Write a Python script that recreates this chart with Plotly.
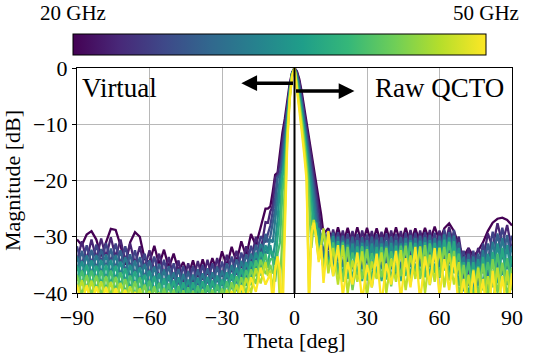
import plotly.graph_objects as go
from plotly.colors import sample_colorscale

# Angle grid (deg)
theta = [-90, -88, -86, -84, -82, -80, -78, -76, -74, -72, -70, -68, -66, -64, -62, -60,
         -58, -56, -54, -52, -50, -48, -46, -44, -42, -40, -38, -36, -34, -32, -30, -28,
         -26, -24, -22, -20, -18, -16, -14, -12,
         -11, -10, -9, -8, -7, -6, -5, -4, -3, -2, -1, 0, 1, 2, 3, 4, 5, 6, 7, 8, 9, 10, 11,
         12, 14, 16, 18, 20, 22, 24, 26, 28, 30, 32, 34, 36, 38, 40, 42, 44, 46, 48, 50, 52,
         54, 56, 58, 60, 62, 64, 66, 68, 70, 72, 74, 76, 78, 80, 82, 84, 86, 88, 90]

freqs = [20, 23, 26, 29, 32, 35, 38, 41, 44, 47, 50]  # GHz

m20 = ([-30.5, -31.5, -29.6, -29.0, -30.5, -33.5, -31.0, -28.6, -28.8, -31.5, -35.0, -31.0, -29.2, -30.0, -34.0, -34.5, -31.6, -35.0, -32.3, -35.5, -33.0, -36.0, -34.5, -37.0, -34.2, -37.2, -34.0, -36.8, -33.8, -36.2, -32.6, -35.2, -31.8, -34.5, -30.8, -33.5, -29.5, -31.5, -28.3, -25.0]
       + [-25.0, -24.6, -22.0, -19.0, -18.6, -14.5, -11.5, -9.0, -6.0, -2.8, -0.8, 0.0, -0.6, -2.0, -4.3, -7.0, -9.8, -12.3, -15.0, -17.8, -20.5, -23.2, -26.0]
       + [-29.5, -28.5, -31.5, -28.3, -31.5, -28.4, -31.5, -28.3, -31.5, -28.4, -31.5, -28.5, -31.5, -28.4, -31.5, -28.3, -31.5, -28.4, -31.3, -28.5, -31.2, -28.4, -31.0, -28.2, -30.8, -28.5, -27.6, -29.0, -31.5, -33.5, -32.0, -33.5, -32.5, -31.0, -29.0, -27.5, -26.8, -26.6, -27.0, -28.0])

m23 = ([-34.4, -30.8, -34.1, -30.5, -33.9, -30.3, -33.7, -30.1, -33.7, -30.5, -34.3, -31.2, -34.9, -31.7, -35.6, -32.4, -36.2, -33.0, -36.8, -33.6, -37.5, -34.2, -38.0, -34.7, -38.0, -34.3, -37.7, -34.1, -37.5, -33.8, -37.1, -33.2, -36.3, -32.5, -35.6, -31.7, -34.4, -30.0, -32.7, -27.4]
       + [-27.5, -25.5, -24.5, -19.5, -18.9, -16.5, -13.0, -10.0, -6.6, -3.1, -0.9, 0.0, -0.8, -2.4, -5.0, -7.8, -10.6, -13.3, -16.0, -19.0, -21.8, -25.0, -28.5]
       + [-28.7, -32.3, -28.7, -32.5, -28.9, -32.6, -29.0, -32.7, -28.9, -32.6, -29.0, -32.7, -29.1, -32.6, -28.9, -32.7, -29.0, -32.6, -28.8, -32.5, -28.9, -32.6, -28.8, -32.5, -28.9, -32.0, -28.2, -32.0, -30.0, -35.7, -32.0, -35.7, -32.0, -34.3, -29.4, -31.9, -27.6, -31.2, -27.9, -32.6])

m26 = ([-31.7, -35.1, -31.5, -34.9, -31.4, -34.7, -31.1, -34.6, -31.2, -34.9, -31.7, -35.6, -32.4, -36.1, -33.0, -36.8, -33.5, -37.4, -34.1, -37.9, -34.7, -38.5, -35.2, -38.9, -35.2, -38.6, -35.0, -38.3, -34.7, -38.1, -34.4, -37.5, -33.5, -36.8, -32.8, -35.9, -31.6, -34.2, -29.9, -31.0]
       + [-29.5, -28.0, -25.5, -23.0, -19.2, -18.6, -14.8, -11.0, -7.3, -3.4, -0.9, 0.0, -1.0, -2.8, -5.6, -8.5, -11.4, -14.3, -17.2, -20.3, -23.5, -27.5, -30.0]
       + [-33.0, -28.8, -33.2, -29.2, -33.5, -29.4, -33.7, -29.5, -33.7, -29.6, -33.6, -29.5, -33.7, -29.4, -33.7, -29.5, -33.8, -29.3, -33.5, -29.3, -33.4, -29.2, -33.5, -29.3, -33.5, -28.7, -32.9, -28.8, -34.7, -32.5, -36.7, -32.5, -36.7, -31.2, -34.5, -29.1, -32.7, -28.4, -33.0, -29.8])

m29 = ([-36.0, -32.5, -35.9, -32.3, -35.8, -32.2, -35.6, -32.1, -35.7, -32.4, -36.2, -33.1, -36.8, -33.6, -37.4, -34.2, -37.9, -34.8, -38.5, -35.2, -39.0, -35.7, -39.4, -36.1, -39.5, -35.8, -39.2, -35.6, -39.0, -35.3, -38.7, -34.7, -37.8, -34.0, -37.1, -33.1, -35.8, -31.4, -34.1, -29.5]
       + [-31.0, -30.0, -27.5, -25.0, -19.5, -19.0, -16.5, -12.2, -8.0, -3.7, -1.0, 0.0, -1.2, -3.3, -6.2, -9.2, -12.2, -15.3, -18.5, -21.8, -25.5, -29.0, -31.5]
       + [-29.0, -33.7, -29.3, -34.3, -29.8, -34.6, -30.0, -34.8, -30.1, -34.7, -30.0, -34.8, -30.1, -34.7, -30.0, -34.8, -30.1, -34.5, -29.7, -34.4, -29.8, -34.5, -29.7, -34.4, -29.8, -33.9, -29.2, -34.0, -31.0, -37.7, -33.0, -37.7, -33.0, -36.5, -31.2, -34.7, -29.4, -34.0, -29.7, -35.4])

m32 = ([-33.4, -36.9, -33.3, -36.7, -33.2, -36.6, -33.1, -36.6, -33.2, -36.9, -33.6, -37.5, -34.2, -38.0, -34.8, -38.6, -35.3, -39.1, -35.8, -39.5, -36.3, -40.0, -36.6, -40.3, -36.7, -40.0, -36.5, -39.8, -36.3, -39.6, -36.0, -39.0, -35.0, -38.3, -34.3, -37.3, -33.0, -35.6, -31.3, -33.0]
       + [-32.0, -30.5, -31.0, -27.0, -24.0, -19.3, -18.5, -13.6, -8.8, -4.0, -1.1, 0.0, -1.5, -3.8, -6.8, -9.9, -13.0, -16.3, -19.8, -23.5, -27.5, -30.0, -29.5]
       + [-34.3, -29.2, -34.8, -30.0, -35.4, -30.4, -35.8, -30.6, -35.8, -30.6, -35.9, -30.5, -35.8, -30.7, -35.8, -30.6, -35.9, -30.2, -35.4, -30.2, -35.3, -30.1, -35.4, -30.2, -35.4, -29.6, -34.8, -29.8, -36.7, -33.5, -38.7, -33.5, -38.7, -32.4, -37.3, -30.9, -35.5, -30.2, -35.8, -31.6])

m35 = ([-37.8, -34.3, -37.7, -34.2, -37.7, -34.1, -37.6, -34.1, -37.7, -34.4, -38.1, -35.0, -38.7, -35.4, -39.3, -36.0, -39.7, -36.5, -40.1, -36.8, -40.6, -37.2, -40.9, -37.6, -40.9, -37.3, -40.7, -37.1, -40.6, -36.9, -40.3, -36.3, -39.3, -35.5, -38.5, -34.5, -37.2, -32.8, -35.5, -31.5]
       + [-33.0, -31.5, -34.0, -31.0, -27.0, -21.0, -18.9, -15.0, -9.5, -4.3, -1.1, 0.0, -1.8, -4.3, -7.3, -10.6, -13.9, -17.5, -21.5, -26.0, -29.0, -28.5, -31.0]
       + [-29.3, -35.1, -29.9, -36.1, -30.7, -36.6, -31.2, -36.9, -31.1, -36.8, -31.2, -36.9, -31.2, -36.8, -31.1, -36.9, -31.2, -36.4, -30.6, -36.3, -30.7, -36.4, -30.6, -36.3, -30.7, -35.8, -30.1, -36.0, -32.0, -39.7, -34.0, -39.7, -34.0, -38.7, -33.0, -37.5, -31.2, -36.8, -31.5, -38.2])

m38 = ([-35.1, -38.6, -35.0, -38.6, -35.1, -38.5, -35.0, -38.5, -35.1, -38.8, -35.6, -39.4, -36.1, -39.8, -36.7, -40.4, -37.0, -40.8, -37.4, -41.0, -37.8, -41.4, -38.1, -41.8, -38.1, -41.5, -37.9, -41.4, -37.8, -41.2, -37.6, -40.6, -36.6, -39.7, -35.7, -38.7, -34.4, -37.0, -32.7, -35.0]
       + [-34.5, -32.5, -33.0, -35.0, -30.0, -26.0, -19.3, -16.8, -10.3, -4.6, -1.2, 0.0, -2.1, -4.9, -7.9, -11.4, -15.0, -19.0, -24.0, -28.5, -27.5, -30.5, -33.0]
       + [-35.6, -29.6, -36.4, -30.8, -37.3, -31.4, -37.9, -31.7, -37.9, -31.7, -37.8, -31.8, -37.9, -31.7, -37.9, -31.6, -37.9, -31.1, -37.3, -31.1, -37.3, -31.0, -37.3, -31.1, -37.3, -30.5, -36.7, -30.8, -38.7, -34.5, -40.7, -34.5, -40.7, -33.6, -40.1, -32.7, -38.3, -32.0, -38.6, -33.4])

m41 = ([-39.5, -36.0, -39.4, -36.0, -39.5, -36.0, -39.5, -36.0, -39.6, -36.3, -40.0, -36.9, -40.5, -37.2, -41.1, -37.8, -41.4, -38.2, -41.7, -38.3, -42.1, -38.7, -42.3, -39.0, -42.3, -38.7, -42.2, -38.6, -42.1, -38.5, -41.9, -37.9, -40.8, -37.0, -39.9, -35.9, -38.6, -34.2, -36.9, -33.0]
       + [-35.5, -34.0, -34.0, -38.0, -33.0, -31.0, -22.0, -18.7, -11.0, -4.9, -1.3, 0.0, -2.5, -5.5, -8.6, -12.2, -16.2, -21.0, -28.0, -27.0, -29.5, -33.0, -32.0]
       + [-28.8, -35.5, -31.0, -36.8, -31.0, -37.5, -32.8, -36.5, -31.7, -37.8, -32.9, -36.6, -31.8, -37.6, -32.6, -36.2, -31.6, -37.0, -31.0, -36.5, -32.0, -37.2, -31.2, -36.5, -31.9, -36.0, -30.9, -36.5, -33.0, -39.5, -34.5, -40.5, -35.3, -39.5, -34.5, -39.0, -33.0, -38.6, -33.8, -39.5])

m44 = ([-36.8, -40.4, -36.8, -40.4, -36.9, -40.4, -37.0, -40.5, -37.1, -40.8, -37.5, -41.3, -37.9, -41.7, -38.5, -42.2, -38.8, -42.5, -39.1, -42.6, -39.4, -42.9, -39.5, -43.2, -39.6, -42.9, -39.4, -42.9, -39.4, -42.7, -39.2, -42.1, -38.1, -41.2, -37.2, -40.1, -35.8, -38.4, -34.1, -36.5]
       + [-36.5, -35.0, -36.5, -36.0, -34.0, -38.0, -30.0, -20.5, -11.8, -5.2, -1.3, 0.0, -2.9, -6.2, -9.4, -13.2, -17.5, -24.0, -32.0, -27.5, -30.0, -33.5, -32.5]
       + [-35.5, -29.5, -37.0, -32.3, -38.0, -31.8, -39.5, -33.5, -37.5, -32.2, -39.0, -33.4, -37.2, -32.0, -38.8, -33.2, -37.0, -31.6, -38.5, -32.6, -37.5, -31.5, -38.6, -32.8, -37.2, -31.8, -37.8, -32.5, -40.7, -35.0, -41.5, -35.8, -40.5, -34.8, -41.0, -34.0, -40.0, -34.6, -40.5, -35.5])

m47 = ([-41.2, -37.7, -41.2, -37.8, -41.4, -37.9, -41.4, -38.0, -41.6, -38.2, -41.9, -38.8, -42.4, -39.1, -42.9, -39.6, -43.1, -39.9, -43.4, -39.9, -43.6, -40.2, -43.7, -40.4, -43.8, -40.2, -43.7, -40.1, -43.6, -40.0, -43.5, -39.4, -42.3, -38.5, -41.4, -37.3, -40.0, -35.6, -38.3, -34.5]
       + [-37.0, -36.0, -39.5, -35.5, -33.5, -42.0, -40.0, -25.0, -12.6, -5.5, -1.4, 0.0, -3.2, -7.0, -10.3, -14.2, -18.7, -40.0, -29.0, -27.0, -30.5, -34.0, -31.5]
       + [-28.5, -36.5, -32.0, -38.5, -31.5, -40.0, -34.2, -38.0, -32.6, -40.5, -34.4, -37.5, -32.8, -40.0, -33.9, -38.0, -32.4, -39.5, -33.3, -37.5, -31.7, -40.0, -33.2, -38.0, -32.0, -39.0, -33.0, -38.5, -34.5, -43.7, -36.8, -42.0, -35.5, -43.1, -37.0, -42.0, -35.5, -42.4, -36.0, -43.8])

m50 = ([-38.5, -42.1, -38.6, -42.2, -38.8, -42.3, -38.9, -42.5, -39.1, -42.7, -39.4, -43.2, -39.8, -43.5, -40.3, -44.0, -40.5, -44.0, -40.7, -44.2, -40.9, -44.4, -40.9, -44.6, -41.0, -44.4, -40.9, -44.4, -40.9, -44.3, -40.8, -43.7, -39.6, -42.7, -38.6, -41.5, -37.2, -39.8, -35.5, -38.5]
       + [-37.5, -36.5, -42.0, -36.0, -33.5, -36.0, -45.0, -30.0, -13.5, -5.8, -1.5, 0.0, -3.5, -7.8, -11.3, -15.3, -20.0, -42.0, -29.5, -27.5, -30.0, -34.5, -31.5]
       + [-38.2, -29.0, -37.0, -31.5, -40.5, -34.5, -38.5, -32.8, -41.5, -35.0, -39.0, -33.0, -42.0, -34.8, -38.5, -32.5, -41.0, -33.8, -39.0, -31.8, -41.5, -33.5, -38.5, -32.0, -40.5, -34.0, -39.5, -33.5, -42.7, -37.5, -44.7, -36.0, -43.0, -37.5, -45.7, -36.0, -43.9, -37.0, -44.2, -36.5])

magnitudes = [m20, m23, m26, m29, m32, m35, m38, m41, m44, m47, m50]
for m in magnitudes:
    assert len(m) == len(theta), len(m)

x_ticks = [-90, -60, -30, 0, 30, 60, 90]
x_tick_text = ["\u221290", "\u221260", "\u221230", "0", "30", "60", "90"]
y_ticks = [0, -10, -20, -30, -40]
y_tick_text = ["0", "\u221210", "\u221220", "\u221230", "\u221240"]

FONT = "Liberation Serif, Times New Roman, serif"
fmin, fmax = 20, 50
colors = sample_colorscale("Viridis", [(f - fmin) / (fmax - fmin) for f in freqs])

fig = go.Figure()
for f, m, c in zip(freqs, magnitudes, colors):
    fig.add_trace(go.Scatter(x=theta, y=m, mode="lines", line=dict(color=c, width=2.3),
                             name=f"{f} GHz", showlegend=False, hoverinfo="skip"))

# colorbar carrier
fig.add_trace(go.Scatter(
    x=[None], y=[None], mode="markers", showlegend=False, hoverinfo="skip",
    marker=dict(color=[fmin], cmin=fmin, cmax=fmax, colorscale="Viridis", showscale=True,
                colorbar=dict(orientation="h", thickness=21, thicknessmode="pixels",
                              len=413, lenmode="pixels", x=0.4655, xanchor="center",
                              y=1.053, yanchor="bottom", xpad=0, ypad=0,
                              outlinewidth=1, outlinecolor="black",
                              showticklabels=False, ticks=""))))

fig.add_shape(type="line", x0=0, x1=0, y0=-40, y1=0, xref="x", yref="y",
              line=dict(color="black", width=2), layer="above")

ann = [
    dict(x=-22, y=-2.7, ax=0, ay=-2.7, xref="x", yref="y", axref="x", ayref="y",
         showarrow=True, arrowhead=2, arrowsize=0.9, arrowwidth=3.5, arrowcolor="black", text=""),
    dict(x=24.8, y=-4.1, ax=0, ay=-4.1, xref="x", yref="y", axref="x", ayref="y",
         showarrow=True, arrowhead=2, arrowsize=0.9, arrowwidth=3.5, arrowcolor="black", text=""),
    dict(x=-88.6, y=-3.5, xref="x", yref="y", text="Virtual", showarrow=False,
         xanchor="left", yanchor="middle", font=dict(size=27, color="black", family=FONT)),
    dict(x=87.7, y=-3.5, xref="x", yref="y", text="Raw QCTO", showarrow=False,
         xanchor="right", yanchor="middle", font=dict(size=27, color="black", family=FONT)),
    dict(x=-0.0092, y=1.244, xref="paper", yref="paper", text="20 GHz", showarrow=False,
         xanchor="center", yanchor="middle", font=dict(size=21, color="black", family=FONT)),
    dict(x=0.9402, y=1.244, xref="paper", yref="paper", text="50 GHz", showarrow=False,
         xanchor="center", yanchor="middle", font=dict(size=21, color="black", family=FONT)),
]

axis_common = dict(showline=True, linecolor="black", linewidth=1.2, mirror=True,
                   ticks="outside", ticklen=4, tickwidth=1, tickcolor="black",
                   showgrid=True, gridcolor="#b8b8b8", gridwidth=1, zeroline=False,
                   automargin=False,
                   tickfont=dict(size=22, color="black", family=FONT))

fig.update_layout(
    width=551, height=353,
    margin=dict(l=77, r=39, t=68, b=60, autoexpand=False),
    paper_bgcolor="white", plot_bgcolor="white",
    font=dict(family=FONT, color="black"),
    annotations=ann,
    xaxis=dict(range=[-90, 90], tickvals=x_ticks, ticktext=x_tick_text,
               title=dict(text="Theta [deg]", font=dict(size=22, family=FONT), standoff=3),
               **axis_common),
    yaxis=dict(range=[-40, 0], tickvals=y_ticks, ticktext=y_tick_text,
               title=dict(text="Magnitude [dB]", font=dict(size=22, family=FONT), standoff=6),
               **axis_common),
)

fig.write_html("out.html")
